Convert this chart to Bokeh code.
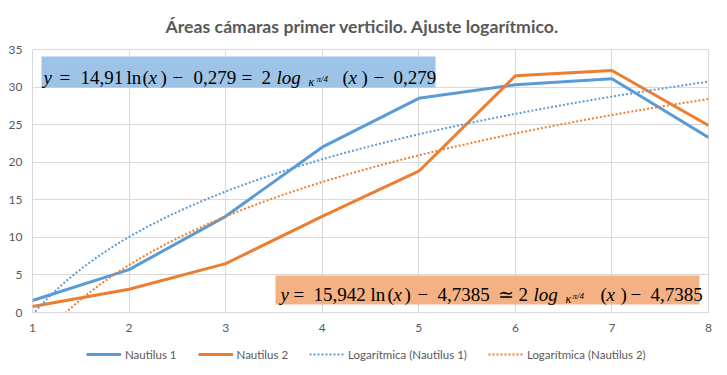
import numpy as np
from bokeh.plotting import figure
from bokeh.layouts import column
from bokeh.models import Range1d, Legend, LegendItem, BoxAnnotation, Label
from bokeh.embed import file_html
from bokeh.resources import INLINE

# ---------------- data ----------------
x_vals = [1, 2, 3, 4, 5, 6, 7, 8]
nautilus1 = [1.6, 5.7, 12.8, 22.0, 28.5, 30.3, 31.1, 23.3]
nautilus2 = [0.8, 3.1, 6.5, 12.8, 18.8, 31.5, 32.2, 24.9]
trend1_coef = [14.91, -0.279]
trend2_coef = [15.942, -4.7385]
x_ticks = [1, 2, 3, 4, 5, 6, 7, 8]
y_ticks = [0, 5, 10, 15, 20, 25, 30, 35]
series_names = ["Nautilus 1", "Nautilus 2",
                "Logarítmica (Nautilus 1)", "Logarítmica (Nautilus 2)"]
title_text = "Áreas cámaras primer verticilo. Ajuste logarítmico."

BLUE = "#5B9BD5"
ORANGE = "#ED7D31"
GRID = "#D9D9D9"
TXT = "#595959"

p = figure(width=719, height=339, x_range=Range1d(1, 8), y_range=Range1d(0, 35),
           output_backend="svg", toolbar_location=None,
           min_border_left=32, min_border_right=11, min_border_top=49,
           min_border_bottom=27)

p.title.text = title_text
p.title.align = "left"
p.title.text_font = "Lato"
p.title.text_font_style = "bold"
p.title.text_font_size = "17.7px"
p.title.text_color = TXT
p.title.standoff = 26
p.title.offset = 133

p.outline_line_color = GRID
for ax in (p.xaxis, p.yaxis):
    ax.major_tick_line_color = None
    ax.minor_tick_line_color = None
    ax.major_tick_out = 0
    ax.major_tick_in = 0
    ax.minor_tick_out = 0
    ax.minor_tick_in = 0
    ax.major_label_text_color = TXT
    ax.major_label_text_font = "Lato"
    ax.major_label_text_font_size = "12px"
p.xaxis.ticker = x_ticks
p.yaxis.ticker = y_ticks
p.xaxis.axis_line_color = GRID
p.yaxis.axis_line_color = None
p.xaxis.major_label_standoff = 11
p.yaxis.major_label_standoff = 10
p.xgrid.ticker = x_ticks
p.ygrid.ticker = y_ticks
p.xgrid.grid_line_color = GRID
p.ygrid.grid_line_color = GRID

r1 = p.line(x_vals, nautilus1, color=BLUE, line_width=3)
r2 = p.line(x_vals, nautilus2, color=ORANGE, line_width=3)

xt = np.linspace(1, 8, 281)
t1 = trend1_coef[0] * np.log(xt) + trend1_coef[1]
t2 = trend2_coef[0] * np.log(xt) + trend2_coef[1]
r3 = p.line(xt, t1, color=BLUE, line_width=2, line_dash="2 2")
r4 = p.line(xt, t2, color=ORANGE, line_width=2, line_dash="2 2")

# --- helpers converting reference pixel positions into data units ---
def dx(px):
    return 1 + (px - 32) / (676 / 7)

def dy(py):
    return (312 - py) * 35 / 263

p.add_layout(BoxAnnotation(left=dx(41), right=dx(435), top=dy(56), bottom=dy(87),
                           fill_color="#9DC3E6", fill_alpha=1, line_color=None))
p.add_layout(BoxAnnotation(left=dx(275), right=dx(699), top=dy(275), bottom=dy(304),
                           fill_color="#F4B183", fill_alpha=1, line_color=None))

def seg(px, py, text, size=19, style="normal"):
    p.add_layout(Label(x=dx(px), y=dy(py), text=text, text_font="Liberation Serif",
                       text_font_size=f"{size}px", text_font_style=style,
                       text_color="#000000", text_align="left",
                       text_baseline="alphabetic"))

def equation(b, parts):
    for (px, text, kind) in parts:
        if kind == "i":
            seg(px, b, text, 19, "italic")
        elif kind == "sub":
            seg(px, b + 4, text, 12, "italic")
        elif kind == "sup":
            seg(px, b + 1, text, 9, "italic")
        else:
            seg(px, b, text, 19)

eq1 = [(43, "y", "i"), (59, "=", "n"), (80, "14,91", "n"), (126, "ln", "n"),
       (142, "(", "n"), (148, "x", "i"), (160, ")", "n"), (172, "\u2212", "n"),
       (193, "0,279", "n"), (241, "=", "n"), (261, "2", "n"), (276, "log", "i"),
       (308, "\u03ba", "sub"), (316, "\u03c0/4", "sup"), (342, "(", "n"),
       (348, "x", "i"), (361, ")", "n"), (373, "\u2212", "n"), (393, "0,279", "n")]
eq2 = [(280, "y", "i"), (293, "=", "n"), (313, "15,942", "n"), (370, "ln", "n"),
       (387, "(", "n"), (393, "x", "i"), (404, ")", "n"), (417, "\u2212", "n"),
       (437, "4,7385", "n"), (497, "\u2243", "n"), (518, "2", "n"), (533, "log", "i"),
       (565, "\u03ba", "sub"), (572, "\u03c0/4", "sup"), (600, "(", "n"),
       (606, "x", "i"), (620, ")", "n"), (630, "\u2212", "n"), (650, "4,7385", "n")]
equation(77, eq1)
equation(294, eq2)

# ---------------- legend strip ----------------
pl = figure(width=719, height=28, x_range=Range1d(0, 1), y_range=Range1d(0, 1),
            output_backend="svg", toolbar_location=None, min_border=0,
            x_axis_location=None, y_axis_location=None)
pl.grid.visible = False
pl.outline_line_color = None
hidden_x = [-2, -1]
hidden_y = [-2, -1]
l1 = pl.line(hidden_x, hidden_y, color=BLUE, line_width=3)
l2 = pl.line(hidden_x, hidden_y, color=ORANGE, line_width=3)
l3 = pl.line(hidden_x, hidden_y, color=BLUE, line_width=2, line_dash="2 2")
l4 = pl.line(hidden_x, hidden_y, color=ORANGE, line_width=2, line_dash="2 2")
legend = Legend(items=[LegendItem(label=series_names[0], renderers=[l1]),
                       LegendItem(label=series_names[1], renderers=[l2]),
                       LegendItem(label=series_names[2], renderers=[l3]),
                       LegendItem(label=series_names[3], renderers=[l4])],
                orientation="horizontal", location=(54, 6),
                border_line_color=None, background_fill_alpha=0,
                label_text_font="Lato", label_text_font_size="11.5px",
                label_text_color=TXT, glyph_width=35, glyph_height=14,
                label_height=14, spacing=21, label_standoff=4, padding=0, margin=0)
pl.add_layout(legend)

layout = column(p, pl, spacing=0)
open("out.html", "w").write(file_html(layout, INLINE))
